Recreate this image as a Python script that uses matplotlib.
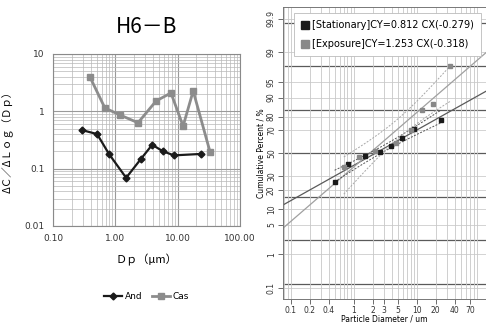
import matplotlib
matplotlib.use("Agg")
import matplotlib.pyplot as plt
import numpy as np
from statistics import NormalDist

plt.rcParams["font.family"] = ["DejaVu Sans"]
CJK = ["Noto Sans CJK JP", "DejaVu Sans"]

# left panel: size distribution
and_dp = [0.29, 0.51, 0.79, 1.49, 2.58, 3.9, 5.8, 8.7, 23.7]
and_val = [0.47, 0.40, 0.18, 0.069, 0.148, 0.26, 0.20, 0.17, 0.18]
cas_dp = [0.39, 0.68, 1.19, 2.31, 4.5, 7.8, 12.2, 17.7, 33.0]
cas_val = [4.0, 1.14, 0.86, 0.63, 1.51, 2.09, 0.55, 2.26, 0.195]
left_xticks = [0.1, 1, 10, 100]
left_xlabels = ["0.10", "1.00", "10.00", "100.00"]
left_yticks = [0.01, 0.1, 1, 10]
left_ylabels = ["0.01", "0.1", "1", "10"]

# right panel: log-probability plot
stat_dp = [0.50, 0.81, 1.53, 2.59, 3.96, 5.85, 9.06, 24.0]
stat_pct = [25.8, 40.0, 47.5, 51.0, 56.5, 63.7, 71.3, 77.8]
expo_dp = [0.70, 1.23, 2.18, 4.7, 8.1, 12.3, 18.4, 33.7]
expo_pct = [37.8, 46.8, 52.0, 59.4, 70.5, 83.9, 87.0, 97.8]
stat_fit = (0.812, -0.279)   # CY, CX
expo_fit = (1.253, -0.318)
right_xticks = [0.1, 0.2, 0.4, 1, 2, 3, 5, 10, 20, 40, 70]
right_yticks = [0.1, 1, 5, 10, 20, 30, 50, 70, 80, 90, 95, 99, 99.9]

nd = NormalDist()


def to_z(pct):
    return np.array([nd.inv_cdf(p / 100.0) for p in pct])


def draw_left(ax):
    ax.set_xscale("log")
    ax.set_yscale("log")
    ax.set_xlim(0.1, 100)
    ax.set_ylim(0.01, 10)
    ax.grid(True, which="major", color="#9a9a9a", lw=0.8)
    ax.grid(True, which="minor", color="#b8b8b8", lw=0.5)
    ax.plot(and_dp, and_val, color="#1a1a1a", lw=1.6, marker="D", ms=3.5,
            label="And", zorder=3)
    ax.plot(cas_dp, cas_val, color="#8c8c8c", lw=2.0, marker="s", ms=5,
            label="Cas", zorder=3)
    ax.set_xticks(left_xticks)
    ax.set_xticklabels(left_xlabels)
    ax.set_yticks(left_yticks)
    ax.set_yticklabels(left_ylabels)
    ax.tick_params(which="both", length=0, labelsize=6.5, colors="#333333", pad=6)
    for s in ax.spines.values():
        s.set_color("#8a8a8a")
        s.set_linewidth(0.8)
    ax.set_title("H6－B", fontsize=15, family=CJK, pad=15)
    ax.set_xlabel("Ｄｐ（μm）", fontsize=8, family=CJK, labelpad=8)
    ax.set_ylabel("ΔＣ／ΔＬｏｇ（Ｄｐ）", fontsize=7.5, family=CJK, labelpad=8)
    ax.legend(loc="upper center", bbox_to_anchor=(0.5, -0.34), ncol=2,
              frameon=False, fontsize=6.5, handlelength=2.0, columnspacing=1.0,
              handletextpad=0.3)


def band(ax, dp, pct, fit, color, ls):
    x = np.log10(dp)
    z = to_z(pct)
    cy, cx = fit
    res = z - (cy * x + cx)
    n = len(x)
    s = np.sqrt(np.sum(res ** 2) / (n - 2))
    xm = x.mean()
    sxx = np.sum((x - xm) ** 2)
    xs = np.linspace(x.min(), x.max(), 60)
    w = 2.447 * s * np.sqrt(1.0 / n + (xs - xm) ** 2 / sxx)
    yc = cy * xs + cx
    ax.plot(10 ** xs, yc + w, color=color, lw=0.7, ls=ls)
    ax.plot(10 ** xs, yc - w, color=color, lw=0.7, ls=ls)


def draw_right(ax):
    ax.set_xscale("log")
    xlo, xhi = 0.0755, 126
    ax.set_xlim(xlo, xhi)
    ax.set_ylim(-3.35, 3.36)
    ax.grid(True, which="both", axis="x", color="#c8c8c8", lw=0.6)
    for z in to_z(right_yticks):
        ax.axhline(z, color="#cccccc", lw=0.6, zorder=0)
    for z in range(-3, 4):
        ax.axhline(z, color="#5a5a5a", lw=0.9, zorder=1)

    xs = np.array([xlo, xhi])
    ax.plot(xs, stat_fit[0] * np.log10(xs) + stat_fit[1], color="#5a5a5a", lw=0.9)
    ax.plot(xs, expo_fit[0] * np.log10(xs) + expo_fit[1], color="#a0a0a0", lw=0.9)
    band(ax, stat_dp, stat_pct, stat_fit, "#555555", (0, (2, 1.5)))
    band(ax, expo_dp, expo_pct, expo_fit, "#a8a8a8", (0, (2, 1.5)))

    ax.plot(stat_dp, to_z(stat_pct), ls="none", marker="s", ms=2.5,
            color="#1a1a1a", label="[Stationary]CY=0.812 CX(-0.279)")
    ax.plot(expo_dp, to_z(expo_pct), ls="none", marker="s", ms=2.5,
            color="#888888", label="[Exposure]CY=1.253 CX(-0.318)")

    ax.set_xticks(right_xticks)
    ax.set_xticklabels([f"{v:g}" for v in right_xticks])
    ax.xaxis.set_minor_formatter(plt.NullFormatter())
    ax.set_yticks(to_z(right_yticks))
    ax.set_yticklabels([f"{v:g}" for v in right_yticks], rotation=90, va="center")
    ax.tick_params(axis="both", which="major", length=3.5, width=0.6,
                   color="#555555", labelsize=5.5, labelcolor="#333333", pad=1.5)
    ax.tick_params(axis="x", which="minor", length=0)
    for s in ax.spines.values():
        s.set_color("#777777")
        s.set_linewidth(0.7)
    ax.spines["right"].set_visible(False)
    ax.set_xlabel("Particle Diameter / um", fontsize=5.5, labelpad=0)
    ax.set_ylabel("Cumulative Percent / %", fontsize=5.5, labelpad=1)

    leg = ax.legend(loc="upper left", bbox_to_anchor=(0.03, 0.995), fontsize=7,
                    markerscale=2.4, handlelength=0.8, handletextpad=0.4,
                    borderpad=0.7, labelspacing=0.9, fancybox=False,
                    framealpha=1.0)
    leg.get_frame().set_edgecolor("#bbbbbb")
    leg.get_frame().set_linewidth(0.6)


fig = plt.figure(figsize=(4.86, 3.25), dpi=100)
ax_l = fig.add_axes([0.109, 0.305, 0.385, 0.529])
ax_r = fig.add_axes([0.582, 0.08, 0.418, 0.898])
draw_left(ax_l)
draw_right(ax_r)
fig.savefig("out.png", dpi=100)
